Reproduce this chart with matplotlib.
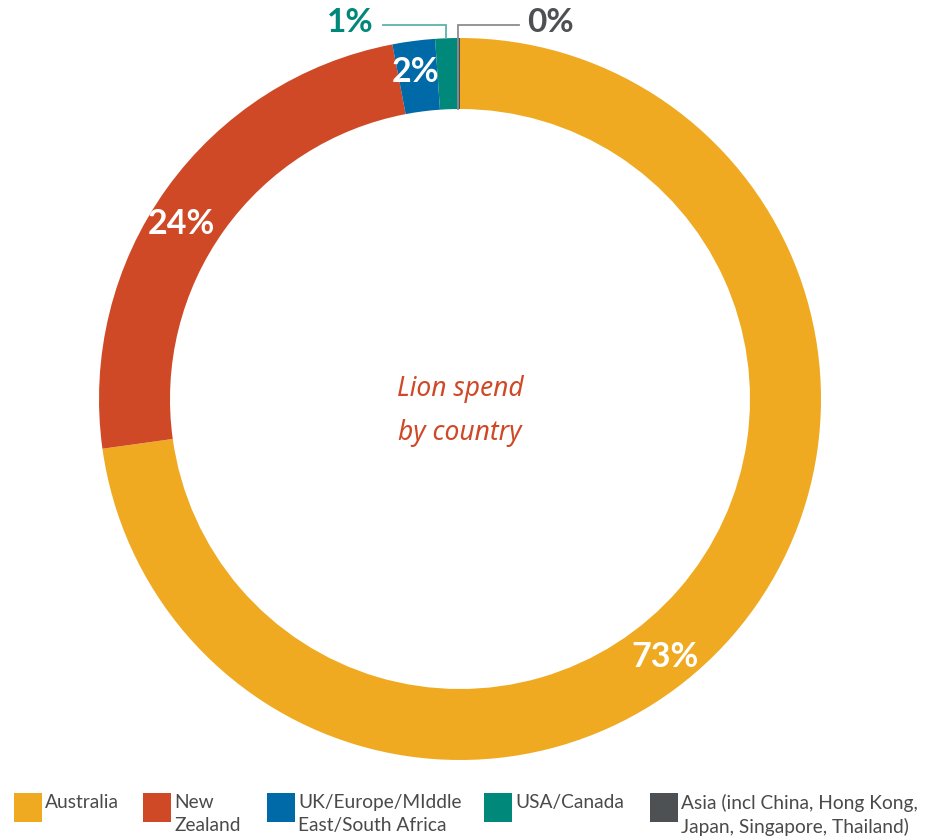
import numpy as np
import matplotlib.pyplot as plt
from matplotlib.patches import Rectangle

# data
countries = ["Australia", "New Zealand", "UK/Europe/MIddle East/South Africa",
             "USA/Canada", "Asia (incl China, Hong Kong, Japan, Singapore, Thailand)"]
legend_labels = ["Australia", "New\nZealand", "UK/Europe/MIddle\nEast/South Africa",
                 "USA/Canada", "Asia (incl China, Hong Kong,\nJapan, Singapore, Thailand)"]
spend_pct = [72.8, 24.2, 1.9, 1.0, 0.1]
pct_labels = ["73%", "24%", "2%", "1%", "0%"]
colors = ["#efaa22", "#d04927", "#0069a7", "#00887a", "#4e5154"]

W, H = 927, 836
fig = plt.figure(figsize=(W / 100, H / 100), dpi=100)
ax = fig.add_axes([0, 0, 1, 1])

cx, cy = 460, H - 399
R = 361
ring = 71

wedges, _ = ax.pie(spend_pct, colors=colors, startangle=90, counterclock=False,
                   center=(cx, cy), radius=R,
                   wedgeprops=dict(width=ring, linewidth=0))
ax.set_xlim(0, W)
ax.set_ylim(0, H)
ax.set_aspect("equal")
ax.axis("off")

# labels inside the ring (fraction along each wedge's span)
inside_frac = [0.54, 0.46, 0.45]
r_mid = R - ring / 2 + 4
for i, frac in enumerate(inside_frac):
    w = wedges[i]
    ang = np.deg2rad(w.theta1 + (w.theta2 - w.theta1) * (1 - frac))
    ax.text(cx + r_mid * np.cos(ang), cy + r_mid * np.sin(ang), pct_labels[i],
            color="white", fontsize=24.5, fontweight="bold", family="Lato",
            ha="center", va="center")

# small slices: labels outside with leader lines
text_y = H - 23
line_y = H - 25
for i, tx, ha, lx in [(3, 373, "right", 383), (4, 527, "left", 519)]:
    w = wedges[i]
    ang = np.deg2rad((w.theta1 + w.theta2) / 2)
    px = cx + R * np.cos(ang)
    py = cy + R * np.sin(ang)
    if i == 4:
        py = cy + (R - ring) * np.sin(ang)
        px = px - 1
    lc = "#5bb3aa" if i == 3 else "#8a8c8f"
    ax.plot([lx, px, px], [line_y, line_y, py], color=lc, lw=1.3,
            solid_joinstyle="miter")
    ax.text(tx, text_y, pct_labels[i], color=colors[i], fontsize=24,
            fontweight="bold", family="Lato", ha=ha, va="center")

ax.text(cx, cy - 12, "Lion spend\nby country", color="#d04927", fontsize=19,
        style="italic", family="Noto Sans", ha="center", va="center",
        linespacing=1.75)

# legend along the bottom
leg_x = [14, 143, 267, 484, 650]
for x, lab, col in zip(leg_x, legend_labels, colors):
    ax.add_patch(Rectangle((x, H - 822), 28, 29, color=col, lw=0))
    ax.text(x + 31, H - 794, lab, color="#4a4a4a", fontsize=13.8,
            family="Lato", ha="left", va="top", linespacing=1.42)

fig.savefig("out.png", dpi=100)
